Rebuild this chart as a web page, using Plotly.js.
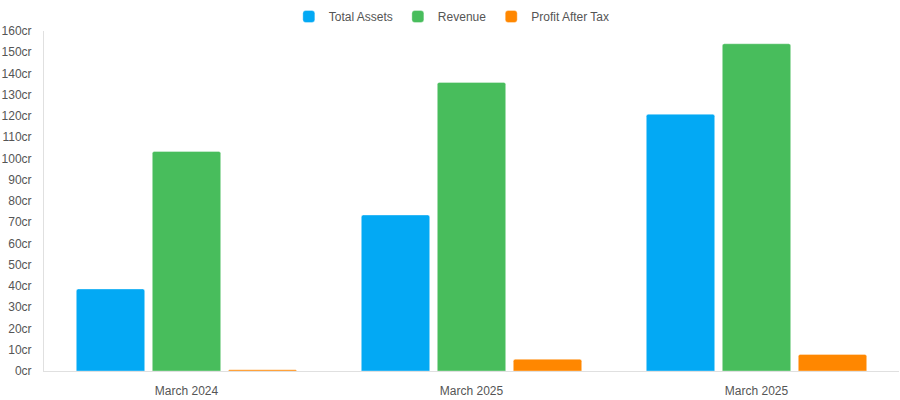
<!DOCTYPE html>
<html>
<head>
<meta charset="utf-8">
<script src="https://cdn.plot.ly/plotly-3.0.1.min.js"></script>
<style>html,body{margin:0;padding:0;background:#fff;}#chart{width:900px;height:400px;}</style>
</head>
<body>
<div id="chart"></div>
<script>
// Data (values in crore)
const categories = ["March 2024", "March 2025", "March 2025"];
const totalAssets = [38.6, 73.4, 120.8];
const revenue = [103.3, 135.8, 154.0];
const profitAfterTax = [0.6, 5.5, 7.8];
const seriesNames = ["Total Assets", "Revenue", "Profit After Tax"];
const seriesColors = ["#03A9F4", "#48BD5C", "#FF8700"];
const yTickStep = 10;
const yMax = 160;
const yTickSuffix = "cr";

// Categories repeat a label, so use positions with tick text
const positions = categories.map((c, i) => i);
const seriesValues = [totalAssets, revenue, profitAfterTax];

const traces = seriesValues.map((vals, k) => ({
  type: "bar",
  name: seriesNames[k],
  x: positions,
  y: vals,
  marker: { color: seriesColors[k], line: { color: "rgba(255,255,255,0.35)", width: 1 } },
  hoverinfo: "none"
}));

const layout = {
  width: 900,
  height: 400,
  margin: { l: 44, r: 1, t: 31, b: 29 },
  paper_bgcolor: "#fff",
  plot_bgcolor: "#fff",
  font: { family: "Liberation Sans, Arial, sans-serif", size: 12, color: "#555" },
  barmode: "group",
  bargap: 0.2,
  bargroupgap: 0.1,
  barcornerradius: 2,
  showlegend: true,
  legend: {
    orientation: "h",
    x: 0.477, xanchor: "center",
    y: 1, yanchor: "bottom",
    font: { size: 12, color: "#555" },
    itemclick: false
  },
  xaxis: {
    range: [-0.5, 2.5],
    tickmode: "array",
    tickvals: positions,
    ticktext: categories,
    showgrid: false,
    zeroline: false,
    showline: true,
    linecolor: "#e0e0e0",
    linewidth: 1,
    ticks: "",
    ticklabelstandoff: 9,
    tickfont: { size: 12, color: "#555" },
    fixedrange: true
  },
  yaxis: {
    range: [0, yMax],
    tickmode: "linear",
    tick0: 0,
    dtick: yTickStep,
    ticksuffix: yTickSuffix,
    showticksuffix: "all",
    showgrid: false,
    zeroline: false,
    showline: true,
    linecolor: "#e0e0e0",
    linewidth: 1,
    ticks: "",
    ticklabelstandoff: 9,
    tickfont: { size: 12, color: "#555" },
    fixedrange: true
  }
};

Plotly.newPlot("chart", traces, layout, { displayModeBar: false, staticPlot: true });
</script>
</body>
</html>
